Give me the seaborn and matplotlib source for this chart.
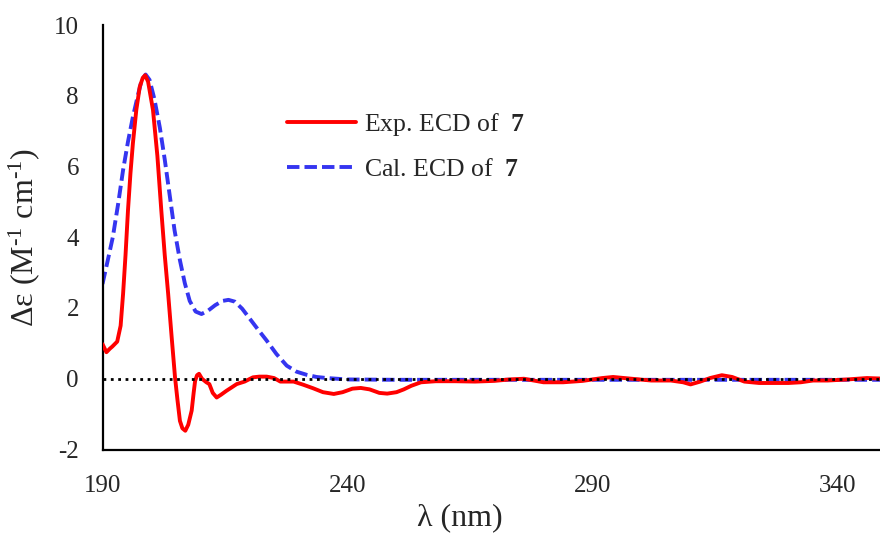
import matplotlib
matplotlib.use("Agg")
import matplotlib.pyplot as plt
import seaborn as sns
import pandas as pd

# ---- data ----
exp_wl = [190, 190.8, 191.5, 192, 193, 193.7, 194.2, 194.7, 195.2, 195.7, 196.2, 196.9,
          197.6, 198.2, 198.7, 199.3, 200.3, 201.2, 202, 202.7, 203.4, 204.1, 204.8,
          205.3, 205.8, 206.3, 206.9, 207.5, 208.2, 208.6, 208.9, 209.3, 209.7, 210.3,
          211.2, 211.8, 212.5, 213.3, 214.2, 215.3, 216.3, 217.4, 219, 220.7, 222,
          223.5, 225, 226.3, 229, 231, 233, 235, 237.2, 239, 241, 242.7, 244.5, 246.5,
          248.1, 250, 251.5, 253, 255, 258, 262, 266, 270, 273, 276, 280, 284, 288,
          292, 294.2, 298, 302, 306, 308.5, 310, 312, 314, 316.4, 318.5, 321, 324,
          327, 330, 332.5, 335, 338, 342, 346, 350]
exp_de = [0.98, 0.75, 0.85, 0.91, 1.05, 1.5, 2.4, 3.5, 4.76, 5.8, 6.65, 7.6,
          8.25, 8.5, 8.58, 8.4, 7.6, 6.3, 4.76, 3.5, 2.4, 1.2, 0.04,
          -0.6, -1.19, -1.4, -1.47, -1.3, -0.9, -0.4, -0.06, 0.1, 0.14, 0.0,
          -0.1, -0.15, -0.4, -0.53, -0.45, -0.34, -0.25, -0.15, -0.08, 0.04, 0.06,
          0.06, 0.02, -0.08, -0.08, -0.17, -0.27, -0.38, -0.43, -0.38, -0.28, -0.26, -0.3, -0.4,
          -0.42, -0.38, -0.3, -0.2, -0.1, -0.07, -0.07, -0.08, -0.06, -0.02, 0.0, -0.1, -0.1, -0.06,
          0.02, 0.05, 0.0, -0.05, -0.05, -0.1, -0.16, -0.08, 0.02, 0.1, 0.05, -0.08, -0.12,
          -0.12, -0.12, -0.1, -0.05, -0.05, -0.02, 0.02, 0.0]

cal_wl = [190, 191, 192.1, 193.2, 194.2, 195.2, 196.2, 197.2, 198, 198.8, 199.6, 200.6,
          201.7, 202.7, 203.7, 204.7, 205.8, 206.8, 207.8, 209, 210.2, 211.5, 213, 214.5,
          215.7, 217, 218.5, 220.1, 221.8, 223.5, 225.5, 227.6, 229.6, 231.7, 233.7,
          235.8, 240, 250, 270, 290, 310, 330, 350]
cal_de = [2.68, 3.3, 4.0, 4.95, 5.9, 6.7, 7.4, 8.0, 8.45, 8.6, 8.45, 7.9,
          7.1, 6.2, 5.2, 4.2, 3.35, 2.7, 2.2, 1.9, 1.83, 1.92, 2.08, 2.2,
          2.23, 2.18, 1.98, 1.69, 1.38, 1.08, 0.7, 0.37, 0.2, 0.11, 0.05,
          0.02, -0.02, -0.03, -0.03, -0.03, -0.03, -0.03, -0.03]

x_ticks = [190, 240, 290, 340]
y_ticks = [-2, 0, 2, 4, 6, 8, 10]
labels = ["Exp. ECD of  $\\mathbf{7}$", "Cal. ECD of  $\\mathbf{7}$"]

# ---- style ----
sns.set_style("white")
plt.rcParams["font.family"] = ["Liberation Serif", "DejaVu Serif"]
plt.rcParams["mathtext.fontset"] = "custom"
plt.rcParams["mathtext.rm"] = "Liberation Serif"
plt.rcParams["mathtext.it"] = "Liberation Serif:italic"
plt.rcParams["mathtext.bf"] = "Liberation Serif:bold"

fig = plt.figure(figsize=(8.8, 5.34), dpi=100)
ax = fig.add_axes([102.5 / 880, (534 - 449.5) / 534, 784 / 880, 424.5 / 534])

exp_df = pd.DataFrame({"wl": exp_wl, "de": exp_de})
cal_df = pd.DataFrame({"wl": cal_wl, "de": cal_de})

ax.axhline(0, color="black", lw=2.0, ls=":", zorder=4)
sns.lineplot(data=exp_df, x="wl", y="de", ax=ax, color="#FF0000", lw=2.8,
             sort=False, estimator=None, label=labels[0], zorder=3)
sns.lineplot(data=cal_df, x="wl", y="de", ax=ax, color="#3535F0", lw=2.8,
             sort=False, estimator=None, label=labels[1], zorder=2,
             linestyle=(0, (3.2, 1.3)))

ax.set_xlim(190, 350)
ax.set_ylim(-2, 10)
ax.set_xticks(x_ticks)
ax.set_yticks(y_ticks)
ax.set_yticklabels([str(v) for v in y_ticks])
ax.tick_params(axis="both", length=0, labelsize=18)
ax.tick_params(axis="x", pad=18)
ax.tick_params(axis="y", pad=17)

for s in ["top", "right"]:
    ax.spines[s].set_visible(False)
for s in ["left", "bottom"]:
    ax.spines[s].set_color("black")
    ax.spines[s].set_linewidth(1.6)

ax.set_xlabel("λ (nm)", fontsize=23)
ax.xaxis.set_label_coords((459.5 - 102.5) / 784, (449.5 - 503) / 424.5)
ax.set_ylabel("Δε (M$^{\u20101}$ cm$^{\u20101}$)", fontsize=23)
ax.yaxis.label.set_va("center")
ax.yaxis.set_label_coords((24 - 102.5) / 784, 0.5)

leg = ax.legend(loc="center left", bbox_to_anchor=(287 / 880, (534 - 146) / 534),
                bbox_transform=fig.transFigure, frameon=False, fontsize=18.5,
                handlelength=2.7, handletextpad=0.28, labelspacing=0.75,
                borderpad=0, borderaxespad=0)

fig.savefig("out.png", dpi=100)
